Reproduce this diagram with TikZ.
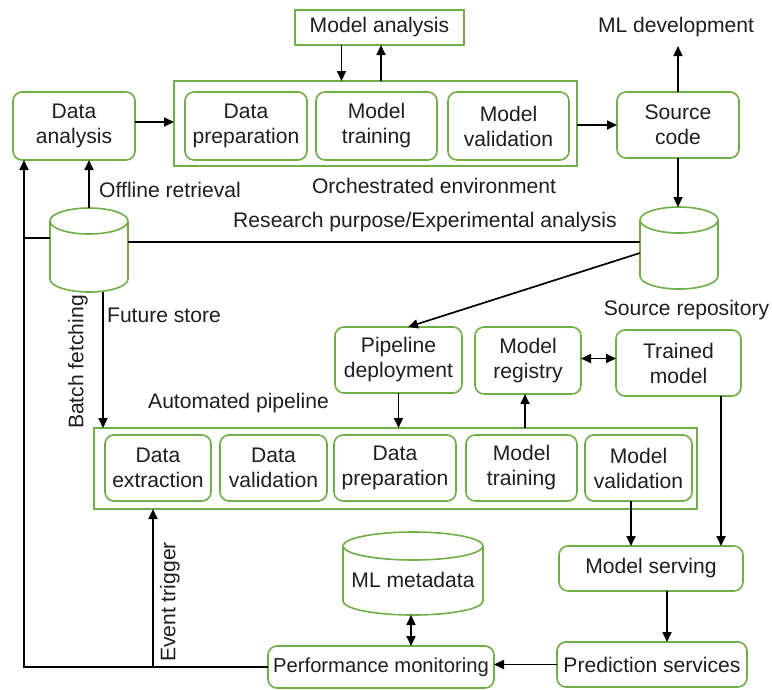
\documentclass[tikz,border=0pt]{standalone}
\usepackage{fontspec}
\setmainfont{Liberation Sans}
\usetikzlibrary{arrows.meta}
\definecolor{gcol}{RGB}{112,173,71}
\definecolor{tcol}{RGB}{30,30,30}
\newcommand{\drawcyl}[3]{%
  \draw[gline] ([yshift=-#3]#1.north) ellipse [x radius=#2, y radius=#3];
  \draw[gline] ([yshift=-#3]#1.north west) -- ([yshift=#3]#1.south west)
     arc[start angle=180, end angle=360, x radius=#2, y radius=#3]
     -- ([yshift=-#3]#1.north east);
}
\begin{document}
\begin{tikzpicture}[x=1pt,y=-1pt,
  every node/.style={font=\fontsize{21.1}{25}\selectfont, text=tcol},
  gline/.style={draw=gcol, line width=1.6pt},
  rbox/.style={gline, rounded corners=9pt, align=center, inner sep=0pt, outer sep=0pt},
  sbox/.style={gline, align=center, inner sep=0pt, outer sep=0pt},
  cylbox/.style={inner sep=0pt, outer sep=0pt},
  lbl/.style={inner sep=0pt},
  arr/.style={line width=1.7pt, -{Triangle[length=10pt,width=9pt]}},
  darr/.style={line width=1.7pt, {Triangle[length=10pt,width=9pt]}-{Triangle[length=10pt,width=9pt]}},
  plain/.style={line width=1.7pt}]
\useasboundingbox (0,0) rectangle (772,689);

% top area
\node[sbox, minimum width=169, minimum height=35] (ma) at (379.5,27.5) {Model analysis};
\node[sbox, minimum width=403, minimum height=85] (orch) at (375.5,123.5) {};
\node[rbox, minimum width=122, minimum height=68] (dp1) at (246,126) {Data\\preparation};
\node[rbox, minimum width=121, minimum height=68] (mt1) at (376.5,126) {Model\\training};
\node[rbox, minimum width=121, minimum height=68] (mv1) at (508.5,126) {Model\\validation};
\node[rbox, minimum width=122, minimum height=68] (da) at (74,126) {Data\\analysis};
\node[rbox, minimum width=122, minimum height=66] (sc) at (678,125) {Source\\code};
\node[lbl, inner ysep=9pt] (mld) at (676,27) {ML development};
\node[lbl] (orchl) at (434,186) {Orchestrated environment};

% cylinders
\node[cylbox, minimum width=78, minimum height=84] (fs) at (89,250) {};
\drawcyl{fs}{39pt}{13pt}
\node[cylbox, minimum width=78, minimum height=82] (sr) at (679,248) {};
\drawcyl{sr}{39pt}{13pt}
\node[cylbox, minimum width=140, minimum height=83,
  label={[yshift=-6pt]center:ML metadata}] (mlm) at (413,573.5) {};
\drawcyl{mlm}{70pt}{14pt}

\node[lbl] (srl) at (686.5,310) {Source repository};
\node[lbl] (rpl) at (425,222) {Research purpose/Experimental analysis};
\node[lbl] (offl) at (170,190) {Offline retrieval};
\node[lbl] (fsl) at (164,315) {Future store};
\node[lbl, rotate=90] (bfl) at (78,362) {Batch fetching};
\node[lbl] (apl) at (238.5,403) {Automated pipeline};
\node[lbl, rotate=90] (etl) at (170,602) {Event trigger};

% middle
\node[rbox, minimum width=127, minimum height=66] (pd) at (398.5,360) {Pipeline\\deployment};
\node[rbox, minimum width=106, minimum height=67] (mr) at (528,360.5) {Model\\registry};
\node[rbox, minimum width=125, minimum height=66] (tm) at (678.5,363) {Trained\\model};

\node[sbox, minimum width=603, minimum height=81] (auto) at (395.5,468.5) {};
\node[rbox, minimum width=106, minimum height=66] (dx) at (158,468) {Data\\extraction};
\node[rbox, minimum width=107, minimum height=66] (dv) at (273.5,468) {Data\\validation};
\node[rbox, minimum width=122, minimum height=66] (dp2) at (395,468) {Data\\preparation};
\node[rbox, minimum width=111, minimum height=66] (mt2) at (521.5,468) {Model\\training};
\node[rbox, minimum width=107, minimum height=66] (mv2) at (638.5,468) {Model\\validation};

% bottom
\node[rbox, minimum width=184, minimum height=45] (ms) at (651,568.5) {Model serving};
\node[rbox, minimum width=190, minimum height=45] (ps) at (652,664.5) {Prediction services};
\node[rbox, minimum width=226, minimum height=42, font=\fontsize{20.2}{24}\selectfont] (pm) at (381,667) {Performance monitoring};

\coordinate (lb) at (24,667);
\coordinate (et) at (153,667);

% connectors
\draw[arr] ([xshift=-38pt]ma.south) -- ([xshift=-38pt]ma.south |- orch.north);
\draw[arr] ([xshift=1.5pt]ma.south |- orch.north) -- ([xshift=1.5pt]ma.south);
\draw[arr] ([yshift=4pt]da.east) -- ([yshift=4pt]da.east -| orch.west);
\draw[arr] (sc.west -| orch.east) -- (sc.west);
\draw[arr] (sc.north) -- (sc.north |- mld.south);
\draw[arr] (sc.south) -- (sc.south |- sr.north);
\draw[arr] (fs.north) -- (fs.north |- da.south);
\draw[plain] ([yshift=8pt]fs.east) -- ([yshift=8pt]fs.east -| sr.west);
\draw[plain] ([yshift=12pt]fs.west) -- ([yshift=12pt]fs.west -| lb);
\draw[arr] (pm.west) -- (lb) -- (lb |- da.south);
\draw[arr] (et) -- (et |- auto.south);
\draw[arr] ([xshift=14pt]fs.south) -- ([xshift=14pt]fs.south |- auto.north);
\draw[arr] ([yshift=-5pt]sr.west) -- ([xshift=9.5pt]pd.north);
\draw[arr] (pd.south) -- (pd.south |- auto.north);
\draw[arr] ([xshift=-3pt]mr.south |- auto.north) -- ([xshift=-3pt]mr.south);
\draw[darr] ([yshift=2pt]mr.east) -- ([yshift=2pt]mr.east -| tm.west);
\draw[arr] ([xshift=42.5pt]tm.south) -- ([xshift=42.5pt]tm.south |- ms.north);
\draw[arr] ([xshift=-7.5pt]mv2.south) -- ([xshift=-7.5pt]mv2.south |- ms.north);
\draw[arr] ([xshift=16pt]ms.south) -- ([xshift=16pt]ms.south |- ps.north);
\draw[arr] (ps.west) -- (ps.west -| pm.east);
\draw[darr] ([xshift=-2pt]mlm.south) -- ([xshift=-2pt]mlm.south |- pm.north);
\end{tikzpicture}
\end{document}
